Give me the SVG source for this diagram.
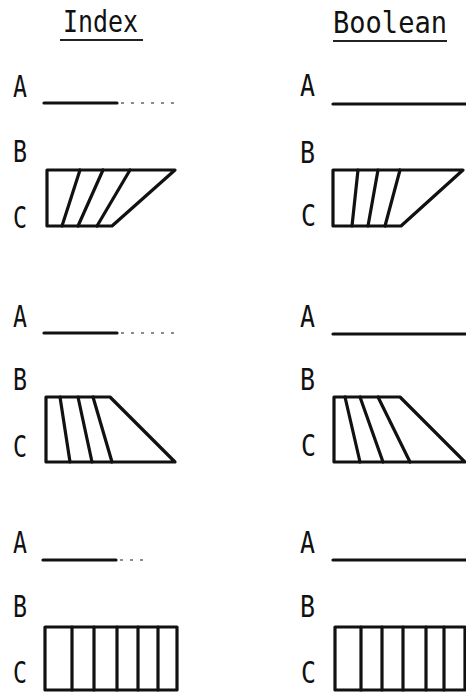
<svg xmlns="http://www.w3.org/2000/svg" width="466" height="692" viewBox="0 0 466 692">
<style>
text{font-family:"DejaVu Sans Mono","Liberation Mono",monospace;font-size:30px;fill:#111}
.ln{stroke:#111;stroke-width:3.2;fill:none;stroke-linecap:round;stroke-linejoin:round}
.ul{stroke:#222;stroke-width:2.2;fill:none}
.dt{stroke:#666;stroke-width:1.5;fill:none;stroke-dasharray:3 7}
</style>
<rect width="466" height="692" fill="#fff"/>
<g id="titles">
<text x="63" y="32" textLength="75" lengthAdjust="spacingAndGlyphs">Index</text>
<line class="ul" x1="60" y1="40" x2="143" y2="40"/>
<text x="333" y="33" textLength="114" lengthAdjust="spacingAndGlyphs">Boolean</text>
<line class="ul" x1="333" y1="41" x2="447" y2="41"/>
</g>
<g id="index-1">
<text x="13" y="97" textLength="14" lengthAdjust="spacingAndGlyphs">A</text>
<text x="13" y="162" textLength="14" lengthAdjust="spacingAndGlyphs">B</text>
<text x="13" y="228" textLength="14" lengthAdjust="spacingAndGlyphs">C</text>
<line class="ln" x1="44" y1="103" x2="117" y2="103"/>
<line class="dt" x1="121" y1="103" x2="175" y2="103"/>
<polygon class="ln" points="47,170 175,170 112,226 47,226"/>
<line class="ln" x1="80" y1="170" x2="62" y2="226"/>
<line class="ln" x1="103" y1="170" x2="78" y2="226"/>
<line class="ln" x1="130" y1="170" x2="97" y2="226"/>
</g>
<g id="boolean-1">
<text x="300" y="96" textLength="15" lengthAdjust="spacingAndGlyphs">A</text>
<text x="300" y="163" textLength="15" lengthAdjust="spacingAndGlyphs">B</text>
<text x="301" y="226" textLength="15" lengthAdjust="spacingAndGlyphs">C</text>
<line class="ln" x1="333" y1="104" x2="466" y2="104"/>
<polygon class="ln" points="333,170 463,170 401,226 333,226"/>
<line class="ln" x1="358" y1="170" x2="352" y2="226"/>
<line class="ln" x1="378" y1="170" x2="368" y2="226"/>
<line class="ln" x1="400" y1="170" x2="385" y2="226"/>
</g>
<g id="index-2">
<text x="13" y="327" textLength="14" lengthAdjust="spacingAndGlyphs">A</text>
<text x="13" y="390" textLength="14" lengthAdjust="spacingAndGlyphs">B</text>
<text x="13" y="457" textLength="14" lengthAdjust="spacingAndGlyphs">C</text>
<line class="ln" x1="44" y1="333" x2="117" y2="333"/>
<line class="dt" x1="121" y1="333" x2="175" y2="333"/>
<polygon class="ln" points="46,397 110,397 175,462 46,462"/>
<line class="ln" x1="60" y1="397" x2="70" y2="462"/>
<line class="ln" x1="78" y1="397" x2="92" y2="462"/>
<line class="ln" x1="93" y1="397" x2="112" y2="462"/>
</g>
<g id="boolean-2">
<text x="300" y="327" textLength="15" lengthAdjust="spacingAndGlyphs">A</text>
<text x="300" y="390" textLength="15" lengthAdjust="spacingAndGlyphs">B</text>
<text x="301" y="456" textLength="15" lengthAdjust="spacingAndGlyphs">C</text>
<line class="ln" x1="333" y1="334" x2="466" y2="334"/>
<polygon class="ln" points="334,397 400,397 465,462 334,462"/>
<line class="ln" x1="345" y1="397" x2="360" y2="462"/>
<line class="ln" x1="360" y1="397" x2="383" y2="462"/>
<line class="ln" x1="378" y1="397" x2="410" y2="462"/>
</g>
<g id="index-3">
<text x="13" y="553" textLength="14" lengthAdjust="spacingAndGlyphs">A</text>
<text x="13" y="617" textLength="14" lengthAdjust="spacingAndGlyphs">B</text>
<text x="13" y="683" textLength="14" lengthAdjust="spacingAndGlyphs">C</text>
<line class="ln" x1="43" y1="560" x2="116" y2="560"/>
<line class="dt" x1="120" y1="560" x2="143" y2="560"/>
<rect class="ln" x="45" y="627" width="132" height="63"/>
<line class="ln" x1="72" y1="627" x2="72" y2="690"/>
<line class="ln" x1="94" y1="627" x2="94" y2="690"/>
<line class="ln" x1="117" y1="627" x2="117" y2="690"/>
<line class="ln" x1="138" y1="627" x2="138" y2="690"/>
<line class="ln" x1="158" y1="627" x2="158" y2="690"/>
</g>
<g id="boolean-3">
<text x="300" y="553" textLength="15" lengthAdjust="spacingAndGlyphs">A</text>
<text x="300" y="617" textLength="15" lengthAdjust="spacingAndGlyphs">B</text>
<text x="301" y="683" textLength="15" lengthAdjust="spacingAndGlyphs">C</text>
<line class="ln" x1="333" y1="560" x2="466" y2="560"/>
<rect class="ln" x="335" y="627" width="130" height="63"/>
<line class="ln" x1="361" y1="627" x2="361" y2="690"/>
<line class="ln" x1="382" y1="627" x2="382" y2="690"/>
<line class="ln" x1="403" y1="627" x2="403" y2="690"/>
<line class="ln" x1="426" y1="627" x2="426" y2="690"/>
<line class="ln" x1="444" y1="627" x2="444" y2="690"/>
</g>
</svg>
